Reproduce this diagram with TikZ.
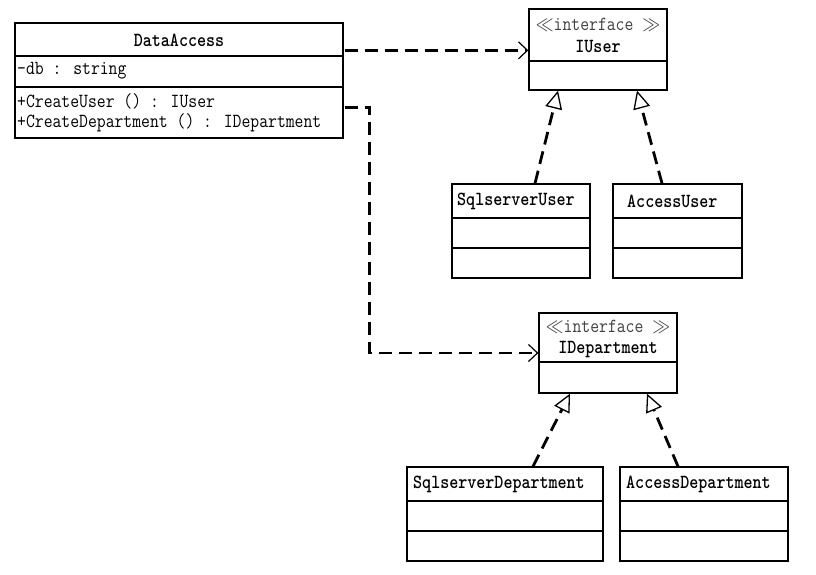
\documentclass[tikz,border=0pt]{standalone}
\usepackage{graphicx}
\usetikzlibrary{arrows.meta,calc}
\newcommand{\umltext}[1]{\scalebox{0.86}[1]{#1}}
\begin{document}
\begin{tikzpicture}[x=1pt,y=-1pt,
  cls/.style={draw=black,line width=1.3pt,rectangle,inner sep=0pt,fill=white},
  txt/.style={inner sep=0pt,font=\ttfamily\fontsize{20}{23}\selectfont},
  ttl/.style={inner sep=0pt,font=\ttfamily\bfseries\fontsize{20}{23}\selectfont},
  stereo/.style={inner sep=0pt,text=black!75,font=\ttfamily\fontsize{20}{23}\selectfont},
  dep/.style={line width=2.8pt,dash pattern=on 13pt off 7pt,
    -{Straight Barb[length=9pt,width=17pt,line width'=1.2pt]}},
  real/.style={line width=2.8pt,dash pattern=on 13pt off 7pt,
    -{Triangle[length=18pt,width=17pt,fill=white,line width'=1.3pt]}},
  sep/.style={line width=1.3pt}]
\useasboundingbox (0,0) rectangle (816,575);
\fill[white] (0,0) rectangle (816,575);
% DataAccess
\node[cls,minimum width=328pt,minimum height=115pt] (da) at (179,80.5) {};
\draw[sep] (da.west |- 0,56) -- (da.east |- 0,56);
\draw[sep] (da.west |- 0,87) -- (da.east |- 0,87);
\node[ttl] (daT) at (179,40) {\umltext{DataAccess}};
\node[txt,anchor=west] (daA) at (17,71) {\umltext{-db : string}};
\node[txt,anchor=west] (daO1) at (17,101) {\umltext{+CreateUser () : IUser}};
\node[txt,anchor=west] (daO2) at (17,123) {\umltext{+CreateDepartment () : IDepartment}};
% IUser
\node[cls,minimum width=138pt,minimum height=81pt] (iu) at (598,49.5) {};
\draw[sep] (iu.west |- 0,61) -- (iu.east |- 0,61);
\node[stereo] (iuS) at (598,25) {\umltext{$\ll$interface $\gg$}};
\node[ttl] (iuT) at (598,47) {\umltext{IUser}};
% SqlserverUser
\node[cls,minimum width=138pt,minimum height=94pt] (su) at (521,231) {};
\draw[sep] (su.west |- 0,218) -- (su.east |- 0,218);
\draw[sep] (su.west |- 0,248) -- (su.east |- 0,248);
\node[ttl,anchor=west] (suT) at (457,201) {\umltext{SqlserverUser}};
% AccessUser
\node[cls,minimum width=129pt,minimum height=94pt] (au) at (677.5,231) {};
\draw[sep] (au.west |- 0,218) -- (au.east |- 0,218);
\draw[sep] (au.west |- 0,248) -- (au.east |- 0,248);
\node[ttl,anchor=west] (auT) at (627,201) {\umltext{AccessUser}};
% IDepartment
\node[cls,minimum width=138pt,minimum height=80pt] (ide) at (608,353) {};
\draw[sep] (ide.west |- 0,362) -- (ide.east |- 0,362);
\node[stereo] (ideS) at (608,327) {\umltext{$\ll$interface $\gg$}};
\node[ttl] (ideT) at (608,350) {\umltext{IDepartment}};
% SqlserverDepartment
\node[cls,minimum width=196pt,minimum height=94pt] (sd) at (505,514) {};
\draw[sep] (sd.west |- 0,501) -- (sd.east |- 0,501);
\draw[sep] (sd.west |- 0,531) -- (sd.east |- 0,531);
\node[ttl,anchor=west] (sdT) at (413,484) {\umltext{SqlserverDepartment}};
% AccessDepartment
\node[cls,minimum width=168pt,minimum height=94pt] (ad) at (704,514) {};
\draw[sep] (ad.west |- 0,501) -- (ad.east |- 0,501);
\draw[sep] (ad.west |- 0,531) -- (ad.east |- 0,531);
\node[ttl,anchor=west] (adT) at (626,484) {\umltext{AccessDepartment}};
% dependencies
\draw[dep] ($(da.north east)+(1,28)$) coordinate (s1) -- (s1 -| iu.west);
\draw[dep] ($(da.north east)+(1,85)$) -- ++(25,0) |- (ide.west);
% realizations
\draw[real] ($(su.north)+(14,0)$) -- ($(iu.south)+(-40,0)$);
\draw[real] ($(au.north)+(-15.5,0)$) -- ($(iu.south)+(39,0)$);
\draw[real] ($(sd.north)+(28,0)$) -- ($(ide.south)+(-38,0)$);
\draw[real] ($(ad.north)+(-26,0)$) -- ($(ide.south)+(39,0)$);
\end{tikzpicture}
\end{document}
